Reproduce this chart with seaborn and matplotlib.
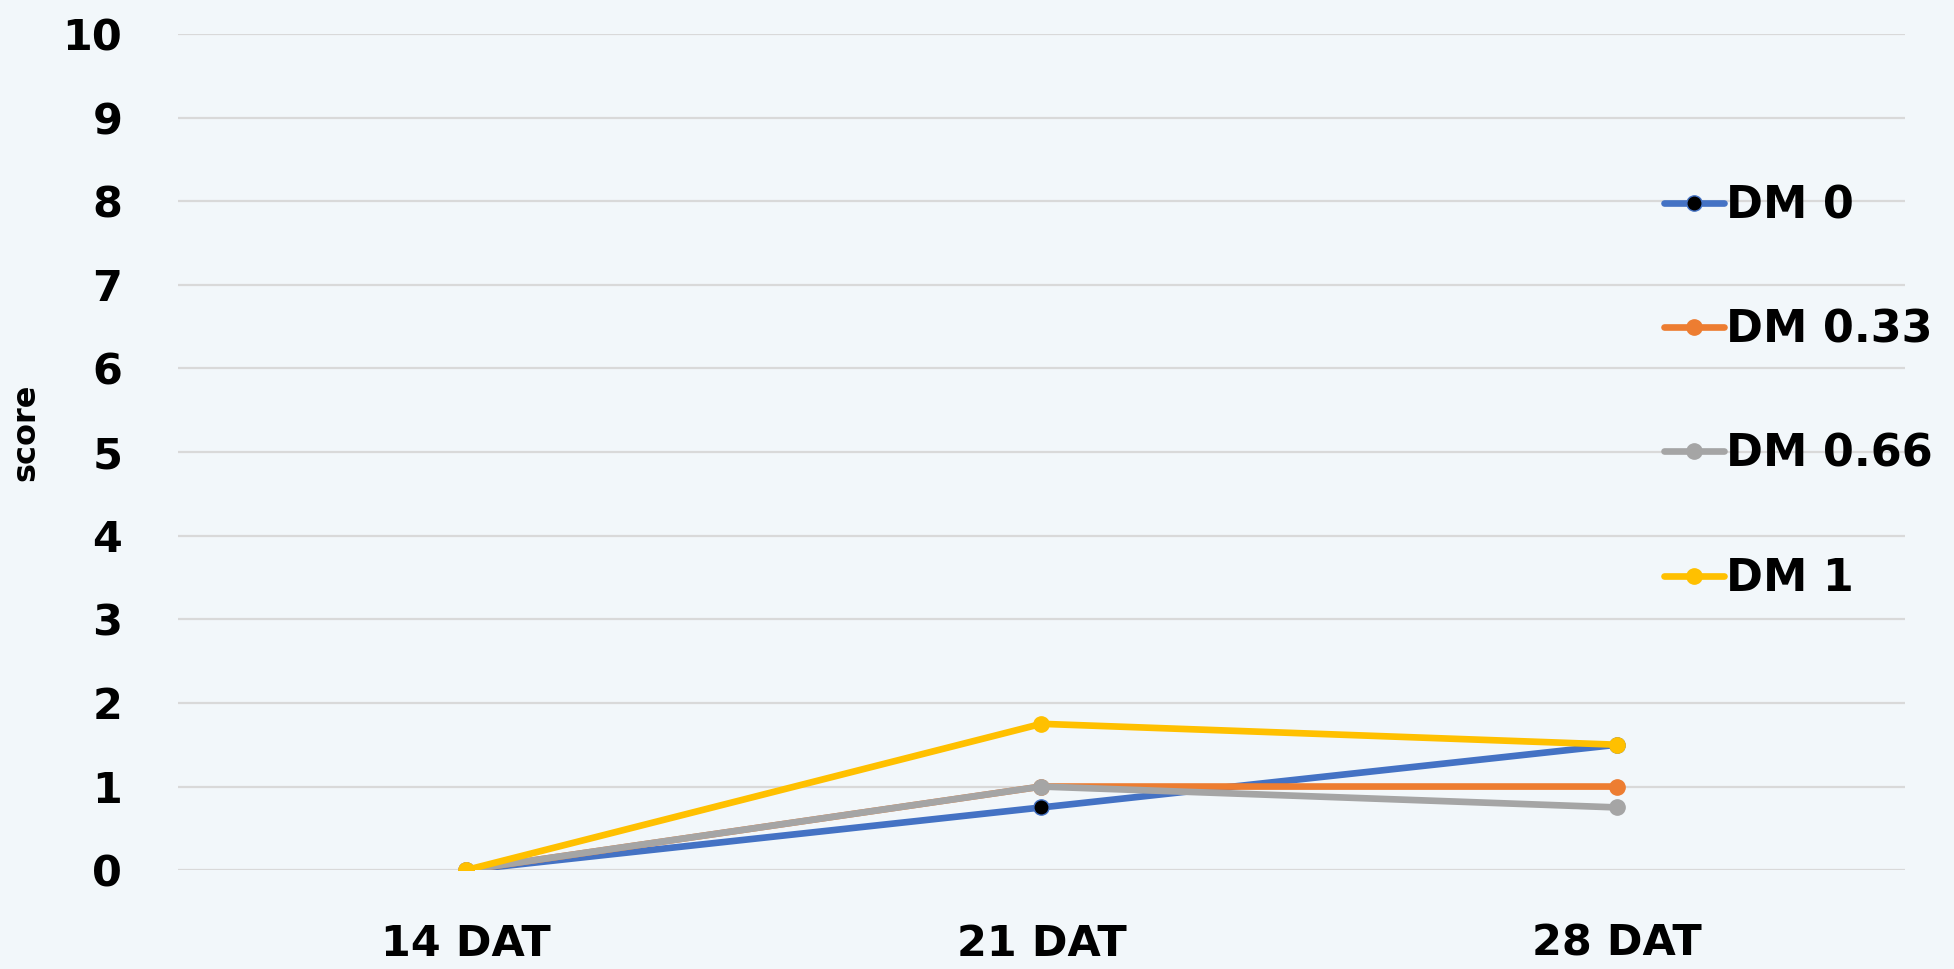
import pandas as pd
import matplotlib.pyplot as plt
import seaborn as sns

days = ["14 DAT", "21 DAT", "28 DAT"]
series_names = ["DM 0", "DM 0.33", "DM 0.66", "DM 1"]
dm_0 = [0, 0.75, 1.5]
dm_033 = [0, 1.0, 1.0]
dm_066 = [0, 1.0, 0.75]
dm_1 = [0, 1.75, 1.5]

colors = {"DM 0": "#4472C4", "DM 0.33": "#ED7D31", "DM 0.66": "#A5A5A5", "DM 1": "#FFC000"}
marker_faces = {"DM 0": "black", "DM 0.33": "#ED7D31", "DM 0.66": "#A5A5A5", "DM 1": "#FFC000"}

rows = []
for name, vals in zip(series_names, [dm_0, dm_033, dm_066, dm_1]):
    for d, v in zip(days, vals):
        rows.append({"day": d, "score": v, "series": name})
df = pd.DataFrame(rows)

bg = "#F2F7FA"
sns.set_style("white")
plt.rcParams["font.family"] = ["DejaVu Sans"]
plt.rcParams["text.color"] = "black"
plt.rcParams["axes.labelcolor"] = "black"
plt.rcParams["xtick.color"] = "black"
plt.rcParams["ytick.color"] = "black"

fig, ax = plt.subplots(figsize=(19.54, 9.69), dpi=100)
fig.patch.set_facecolor(bg)
ax.set_facecolor(bg)

for name in series_names:
    sub = df[df["series"] == name]
    sns.lineplot(data=sub, x="day", y="score", ax=ax, color=colors[name],
                 linewidth=4.8, marker="o", markersize=11,
                 markerfacecolor=marker_faces[name], markeredgecolor=colors[name],
                 markeredgewidth=1.0, label=name)

ax.set_xlim(-0.5, 2.5)
ax.set_ylim(0, 10)
ax.set_yticks(range(0, 11))
ax.yaxis.grid(True, color="#D9D9D9", linewidth=1.6)
ax.set_axisbelow(True)
for s in ax.spines.values():
    s.set_visible(False)

ax.tick_params(axis="both", length=0, labelsize=31)
ax.tick_params(axis="x", pad=38)
ax.tick_params(axis="y", pad=40)
for lbl in ax.get_xticklabels() + ax.get_yticklabels():
    lbl.set_fontweight("bold")

ax.set_xlabel("")
ax.set_ylabel("score", fontsize=23, fontweight="bold")
ax.yaxis.set_label_coords(-0.079, 0.523)

leg = ax.legend(loc="upper left", bbox_to_anchor=(0.837, 0.868), frameon=False,
                handlelength=1.35, handletextpad=0.05, labelspacing=1.83,
                prop={"weight": "bold", "size": 32})

plt.subplots_adjust(left=0.091, right=0.975, top=0.965, bottom=0.102)
plt.savefig("out.png", dpi=100, facecolor=bg)
